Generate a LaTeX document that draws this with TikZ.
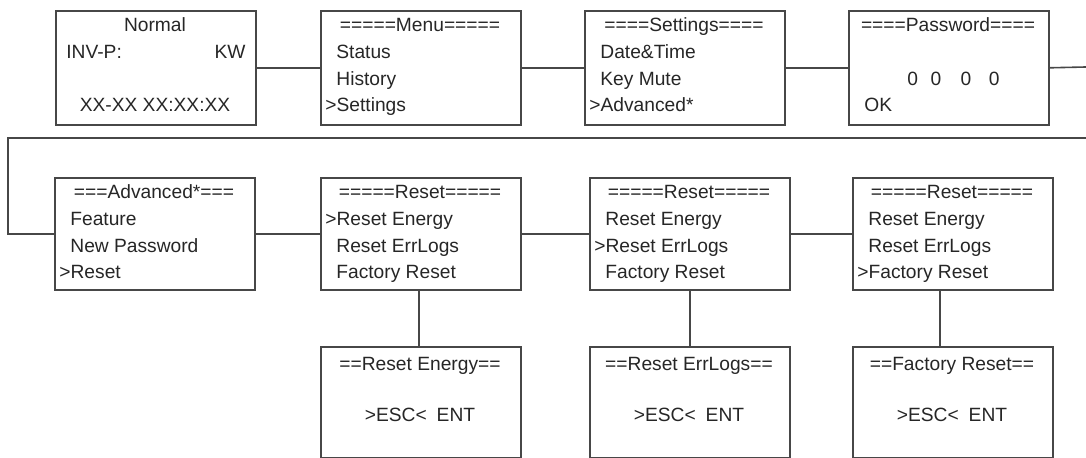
\documentclass[tikz,border=0pt]{standalone}
\usepackage{fontspec}
\setmainfont{Liberation Sans}

\begin{document}
\begin{tikzpicture}[
    x=0.5pt,
    y=-0.5pt,
    font=\fontsize{9.6pt}{11pt}\selectfont,
    screen/.style={draw=black!72, line width=0.8pt, inner sep=0pt,
      minimum width=100pt, minimum height=57pt, anchor=north west},
    lowscreen/.style={screen, minimum height=56pt},
    ttl/.style={anchor=base, inner sep=0pt, text=black!85},
    itm/.style={anchor=base west, inner sep=0pt, text=black!85},
    lnk/.style={draw=black!72, line width=0.8pt}
  ]
    \useasboundingbox (0,0) rectangle (1086,458);

    % Fila superior (y = 10 ... 124)
    \node[screen] (nrm) at (55, 10) {};
    \node[screen] (menu) at (320, 10) {};
    \node[screen] (sett) at (584, 10) {};
    \node[screen] (pwd) at (848, 10) {};

    % --- Normal ---
    \node[ttl] (nrm-t) at (155, 32) {Normal};
    \node[itm] (nrm-a) at (66, 59) {INV-P:};
    \node[anchor=base east, inner sep=0pt, text=black!85] (nrm-b)
      at (246, 59) {KW};
    \node[ttl] (nrm-c) at (155, 112) {XX-XX XX:XX:XX};

    % --- Menu ---
    \node[ttl] (menu-t) at (420, 32) {=====Menu=====};
    \node[itm] (menu-a) at (336, 59) {Status};
    \node[itm] (menu-b) at (336, 86) {History};
    \node[itm] (menu-c) at (325, 112) {>Settings};

    % --- Settings ---
    \node[ttl] (sett-t) at (684, 32) {====Settings====};
    \node[itm] (sett-a) at (600, 59) {Date\&Time};
    \node[itm] (sett-b) at (600, 86) {Key Mute};
    \node[itm] (sett-c) at (589, 112) {>Advanced*};

    % --- Password ---
    \node[ttl] (pwd-t) at (948, 32) {====Password====};
    \node[itm] (pwd-a) at (907, 86)
      {0\hspace{6.3pt}0\hspace{9.6pt}0\hspace{8.8pt}0};
    \node[itm] (pwd-b) at (864, 112) {OK};

    % Fila central (y = 177 ... 289)
    \node[lowscreen] (adv) at (54, 177) {};
    \node[lowscreen] (rstA) at (320, 177) {};
    \node[lowscreen] (rstB) at (589, 177) {};
    \node[lowscreen] (rstC) at (852, 177) {};

    % --- Advanced ---
    \node[ttl] (adv-t) at (154, 199) {===Advanced*===};
    \node[itm] (adv-a) at (70, 226) {Feature};
    \node[itm] (adv-b) at (70, 253) {New Password};
    \node[itm] (adv-c) at (59, 279) {>Reset};

    % --- Reset (energy) ---
    \node[ttl] (rstA-t) at (420, 199) {=====Reset=====};
    \node[itm] (rstA-a) at (325, 226) {>Reset Energy};
    \node[itm] (rstA-b) at (336, 253) {Reset ErrLogs};
    \node[itm] (rstA-c) at (336, 279) {Factory Reset};

    % --- Reset (errlogs) ---
    \node[ttl] (rstB-t) at (689, 199) {=====Reset=====};
    \node[itm] (rstB-a) at (605, 226) {Reset Energy};
    \node[itm] (rstB-b) at (594, 253) {>Reset ErrLogs};
    \node[itm] (rstB-c) at (605, 279) {Factory Reset};

    % --- Reset (factory) ---
    \node[ttl] (rstC-t) at (952, 199) {=====Reset=====};
    \node[itm] (rstC-a) at (868, 226) {Reset Energy};
    \node[itm] (rstC-b) at (868, 253) {Reset ErrLogs};
    \node[itm] (rstC-c) at (857, 279) {>Factory Reset};

    % Fila inferior (y = 346 ... 457)
    \node[screen, minimum height=55.5pt] (cfmA) at (320, 346) {};
    \node[screen, minimum height=55.5pt] (cfmB) at (589, 346) {};
    \node[screen, minimum height=55.5pt] (cfmC) at (852, 346) {};

    \node[ttl] (cfmA-t) at (420, 371) {==Reset Energy==};
    \node[ttl] (cfmA-a) at (420, 422) {>ESC<\hspace{5pt}ENT};
    \node[ttl] (cfmB-t) at (689, 371) {==Reset ErrLogs==};
    \node[ttl] (cfmB-a) at (689, 422) {>ESC<\hspace{5pt}ENT};
    \node[ttl] (cfmC-t) at (952, 371) {==Factory Reset==};
    \node[ttl] (cfmC-a) at (952, 422) {>ESC<\hspace{5pt}ENT};

    % Conexiones
    \coordinate (edgeR) at (1086, 67);
    \coordinate (wrapR) at (1086, 138);
    \coordinate (wrapL) at (8, 138);

    \draw[lnk] (nrm) -- (menu);
    \draw[lnk] (menu) -- (sett);
    \draw[lnk] (sett) -- (pwd);
    \draw[lnk] (pwd.east) -- (edgeR);
    \draw[lnk] (wrapR) -- (wrapL) |- (adv.west);
    \draw[lnk] (adv) -- (rstA);
    \draw[lnk] (rstA) -- (rstB);
    \draw[lnk] (rstB) -- (rstC);
    \draw[lnk] ([xshift=-1pt]rstA.south) -- ([xshift=-1pt]cfmA.north);
    \draw[lnk] (rstB.south) -- (cfmB.north);
    \draw[lnk] ([xshift=-6.5pt]rstC.south) -- ([xshift=-6.5pt]cfmC.north);
  \end{tikzpicture}
\end{document}
